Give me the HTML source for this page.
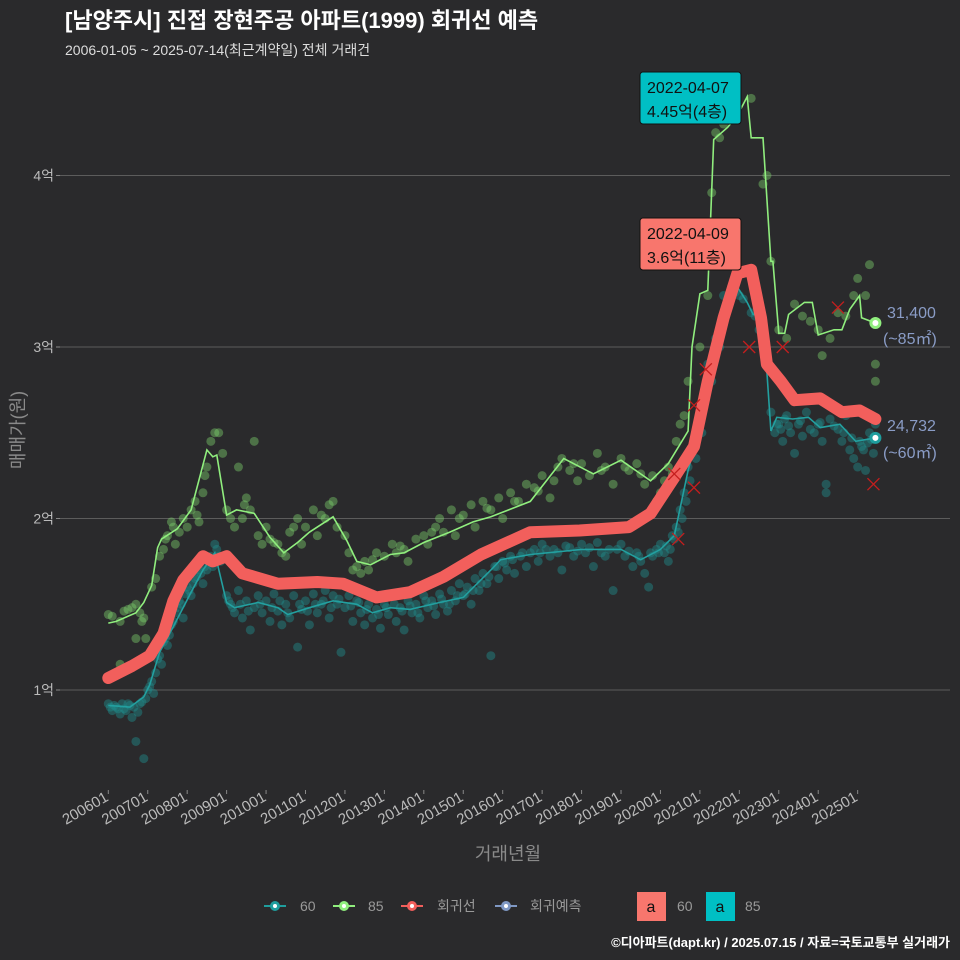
<!DOCTYPE html>
<html><head><meta charset="utf-8">
<style>
html,body{margin:0;padding:0;background:#2a2a2c;}
svg{display:block;font-family:"Liberation Sans","Noto Sans CJK KR",sans-serif;}
</style></head>
<body>
<svg id="chart" width="960" height="960" viewBox="0 0 960 960">
<rect width="960" height="960" fill="#2a2a2c"/>
<text x="65" y="28" fill="#ffffff" font-size="22" font-weight="bold">[남양주시] 진접 장현주공 아파트(1999) 회귀선 예측</text>
<text x="65" y="55" fill="#dddddd" font-size="14">2006-01-05 ~ 2025-07-14(최근계약일) 전체 거래건</text>
<g id="grid"></g>
<g id="yticks"></g>
<g id="xticks"></g>
<g id="scatter"></g>
<g id="lines"></g>
<g id="marks"></g>
<text x="24" y="430" fill="#8a8a8a" font-size="18" text-anchor="middle" transform="rotate(-90 24 430)">매매가(원)</text>
<text x="508" y="860" fill="#8a8a8a" font-size="18" text-anchor="middle">거래년월</text>

<g>
<rect x="640" y="72" width="101" height="52" rx="3" fill="#00bfc4" stroke="#111" stroke-width="1"/>
<text x="647" y="93" font-size="16" fill="#111">2022-04-07</text>
<text x="647" y="117" font-size="16" fill="#111">4.45억(4층)</text>
</g>
<g>
<rect x="640" y="218" width="101" height="52" rx="3" fill="#f8766d" stroke="#111" stroke-width="1"/>
<text x="647" y="239" font-size="16" fill="#111">2022-04-09</text>
<text x="647" y="263" font-size="16" fill="#111">3.6억(11층)</text>
</g>
<g fill="#8a9cc6" font-size="16">
<text x="887" y="318">31,400</text>
<text x="883" y="344">(~85㎡)</text>
<text x="887" y="431">24,732</text>
<text x="883" y="458">(~60㎡)</text>
</g>

<g font-size="14" fill="#9a9a9a">
<g>
<line x1="264" y1="906" x2="286" y2="906" stroke="#1f9e9e" stroke-width="2"/><circle cx="275" cy="906" r="5" fill="#1f9e9e"/><circle cx="275" cy="906" r="2" fill="#fff"/>
<text x="300" y="911">60</text></g>
<g>
<line x1="333" y1="906" x2="355" y2="906" stroke="#90ee7e" stroke-width="2"/><circle cx="344" cy="906" r="5" fill="#90ee7e"/><circle cx="344" cy="906" r="2" fill="#fff"/>
<text x="368" y="911">85</text></g>
<g>
<line x1="401" y1="906" x2="423" y2="906" stroke="#f25f5c" stroke-width="2"/><circle cx="412" cy="906" r="5" fill="#f25f5c"/><circle cx="412" cy="906" r="2" fill="#fff"/>
<text x="437" y="911">회귀선</text></g>
<g>
<line x1="495" y1="906" x2="517" y2="906" stroke="#7f98c4" stroke-width="2"/><circle cx="506" cy="906" r="5" fill="#7f98c4"/><circle cx="506" cy="906" r="2" fill="#fff"/>
<text x="530" y="911">회귀예측</text></g>
<g>
<rect x="637" y="892" width="29" height="29" fill="#f8766d"/><text x="651" y="912" fill="#111" font-size="16" text-anchor="middle">a</text>
<text x="677" y="911">60</text></g>
<g>
<rect x="706" y="892" width="29" height="29" fill="#00bfc4"/><text x="720" y="912" fill="#111" font-size="16" text-anchor="middle">a</text>
<text x="745" y="911">85</text></g>
</g>
<text x="950" y="947" fill="#ffffff" font-size="13" font-weight="bold" text-anchor="end">©디아파트(dapt.kr) / 2025.07.15 / 자료=국토교통부 실거래가</text>
</svg>
<script>
const yTicks=[1,2,3,4];
const yTickLabels=["1억","2억","3억","4억"];
const xTickYears=[2006,2007,2008,2009,2010,2011,2012,2013,2014,2015,2016,2017,2018,2019,2020,2021,2022,2023,2024,2025];
const xTickLabels=["200601","200701","200801","200901","201001","201101","201201","201301","201401","201501","201601","201701","201801","201901","202001","202101","202201","202301","202401","202501"];

const line85T=[2006.0,2006.2,2006.7,2006.9,2007.1,2007.25,2007.35,2007.75,2008.1,2008.5,2008.65,2008.75,2009.0,2009.25,2009.7,2010.1,2010.45,2010.8,2011.1,2011.7,2012.05,2012.3,2012.65,2013.15,2013.5,2014.0,2014.65,2015.25,2015.7,2016.7,2017.55,2018.3,2019.0,2019.75,2020.2,2020.7,2020.8,2021.0,2021.2,2021.35,2021.7,2021.95,2022.2,2022.3,2022.6,2022.8,2022.85,2023.0,2023.15,2023.25,2023.65,2023.85,2024.0,2024.4,2024.6,2024.8,2025.05,2025.1,2025.45];
const line85V=[1.39,1.40,1.45,1.51,1.61,1.83,1.88,1.94,2.05,2.40,2.36,2.37,2.02,2.05,2.03,1.89,1.80,1.86,1.92,2.01,1.87,1.75,1.73,1.79,1.80,1.86,1.92,1.98,2.01,2.10,2.35,2.26,2.34,2.22,2.32,2.51,3.0,3.31,3.33,4.21,4.28,4.35,4.46,4.22,4.22,3.50,3.50,3.08,3.08,3.19,3.26,3.26,3.07,3.10,3.10,3.22,3.30,3.17,3.14];

const line60T=[2006.0,2006.55,2006.9,2007.05,2007.3,2007.65,2008.1,2008.4,2008.7,2009.0,2009.2,2009.8,2010.3,2010.55,2011.1,2011.7,2012.3,2012.7,2013.15,2013.65,2014.4,2015.0,2015.7,2015.95,2016.7,2018.0,2019.0,2019.5,2020.0,2020.35,2020.7,2021.0,2021.35,2021.7,2021.95,2022.2,2022.35,2022.6,2022.8,2022.95,2023.35,2023.75,2024.05,2024.55,2024.95,2025.45];
const line60V=[0.91,0.90,0.96,1.03,1.22,1.37,1.57,1.70,1.80,1.51,1.48,1.51,1.48,1.44,1.48,1.52,1.50,1.45,1.48,1.47,1.51,1.54,1.70,1.76,1.79,1.82,1.82,1.76,1.82,1.90,2.28,2.53,2.86,3.32,3.35,3.26,3.19,3.19,2.51,2.59,2.58,2.59,2.53,2.55,2.45,2.47];

const regT=[2006.0,2006.6,2007.05,2007.4,2007.65,2007.9,2008.4,2008.65,2009.0,2009.4,2010.3,2011.3,2011.95,2012.8,2013.65,2014.5,2015.45,2016.7,2017.95,2019.2,2019.75,2020.35,2020.85,2021.2,2021.6,2021.95,2022.3,2022.55,2022.7,2023.05,2023.4,2024.05,2024.6,2025.05,2025.45];
const regV=[1.07,1.14,1.20,1.33,1.52,1.64,1.78,1.75,1.78,1.68,1.62,1.63,1.62,1.54,1.57,1.66,1.79,1.92,1.93,1.95,2.03,2.24,2.42,2.80,3.17,3.43,3.45,3.17,2.90,2.80,2.69,2.70,2.62,2.63,2.58];

const dots60T=[2006.0,2006.1,2006.2,2006.3,2006.4,2006.5,2006.6,2006.7,2006.75,2006.8,2006.9,2006.95,2007.0,2007.1,2007.15,2007.2,2007.3,2007.35,2007.45,2007.5,2007.6,2007.7,2007.8,2007.9,2008.0,2008.1,2008.2,2008.3,2008.4,2008.55,2008.65,2008.7,2008.8,2009.0,2009.1,2009.2,2009.3,2009.4,2009.5,2009.6,2009.7,2009.8,2009.9,2010.0,2010.1,2010.2,2010.3,2010.4,2010.5,2010.6,2010.7,2010.8,2010.9,2011.0,2011.1,2011.2,2011.3,2011.4,2011.5,2011.6,2011.7,2011.8,2011.9,2012.0,2012.1,2012.2,2012.3,2012.4,2012.5,2012.6,2012.7,2012.8,2012.9,2013.0,2013.1,2013.2,2013.3,2013.4,2013.5,2013.6,2013.7,2013.8,2013.9,2014.0,2014.1,2014.2,2014.3,2014.4,2014.5,2014.6,2014.7,2014.8,2014.9,2015.0,2015.1,2015.2,2015.3,2015.4,2015.5,2015.6,2015.7,2015.8,2015.9,2016.0,2016.1,2016.2,2016.3,2016.5,2016.6,2016.8,2016.9,2017.0,2017.2,2017.3,2017.5,2017.6,2017.8,2018.0,2018.1,2018.3,2018.4,2018.6,2018.7,2018.8,2019.0,2019.1,2019.3,2019.4,2019.5,2019.6,2019.7,2019.8,2019.9,2020.0,2020.1,2020.2,2020.3,2020.4,2020.5,2020.6,2020.7,2020.8,2021.0,2021.1,2021.2,2021.4,2021.6,2021.8,2022.0,2022.3,2022.5,2022.8,2022.9,2023.0,2023.1,2023.2,2023.3,2023.5,2023.6,2023.7,2023.9,2024.0,2024.1,2024.2,2024.3,2024.5,2024.6,2024.7,2024.8,2024.9,2025.0,2025.1,2025.2,2025.3,2025.4,2025.45,2024.2,2023.4,
2006.05,2006.15,2006.25,2006.35,2006.45,2006.55,2006.65,2006.85,2007.05,2007.25,2007.4,2007.55,2007.65,2007.75,2007.85,2007.95,2008.05,2008.15,2008.25,2008.35,2008.45,2008.5,2008.6,2008.75,2008.85,2009.05,2009.15,2009.35,2009.55,2009.85,2010.15,2010.35,2010.55,2010.85,2011.05,2011.25,2011.45,2011.65,2011.85,2012.15,2012.35,2012.55,2012.85,2013.05,2013.25,2013.45,2013.65,2013.85,2014.05,2014.25,2014.45,2014.65,2014.85,2015.05,2015.25,2015.45,2015.65,2015.85,2016.05,2016.25,2016.45,2016.7,2016.95,2017.1,2017.4,2017.7,2017.9,2018.2,2018.5,2018.9,2019.2,2019.45,2019.75,2019.95,2020.15,2020.25,2020.35,2020.45,2020.55,2020.65,2020.75,2020.9,2021.05,2021.3,2021.5,2021.7,2021.9,2022.1,2022.4,2022.6,2022.7,2022.95,2023.05,2023.15,2023.25,2023.55,2023.8,2024.05,2024.4,2024.65,2024.85,2025.05,2025.15,2025.25,2025.35];
const dots60V=[0.92,0.88,0.90,0.86,0.89,0.92,0.84,0.70,0.87,0.92,0.60,0.95,1.00,1.05,0.98,1.10,1.20,1.15,1.30,1.26,1.38,1.45,1.52,1.42,1.60,1.55,1.65,1.70,1.62,1.75,1.72,1.85,1.78,1.55,1.50,1.45,1.58,1.42,1.52,1.35,1.48,1.55,1.45,1.52,1.40,1.56,1.46,1.38,1.50,1.42,1.55,1.25,1.47,1.52,1.38,1.56,1.45,1.50,1.58,1.42,1.55,1.50,1.22,1.48,1.55,1.40,1.52,1.45,1.38,1.50,1.42,1.47,1.36,1.50,1.44,1.55,1.40,1.48,1.35,1.52,1.45,1.50,1.42,1.55,1.48,1.52,1.44,1.56,1.50,1.46,1.58,1.52,1.62,1.55,1.60,1.50,1.65,1.58,1.68,1.62,1.20,1.72,1.65,1.75,1.70,1.78,1.68,1.80,1.72,1.82,1.75,1.85,1.78,1.82,1.70,1.84,1.78,1.85,1.80,1.72,1.86,1.78,1.82,1.58,1.85,1.78,1.72,1.80,1.75,1.68,1.60,1.78,1.82,1.85,1.80,1.75,1.90,1.95,2.05,2.15,2.30,2.40,2.60,2.70,2.90,3.05,3.30,3.35,3.30,3.20,3.10,2.62,2.50,2.55,2.45,2.60,2.50,2.55,2.48,2.62,2.50,2.55,2.45,2.15,2.58,2.52,2.45,2.60,2.40,2.35,2.30,2.42,2.28,2.50,2.38,2.55,2.20,2.38,
0.90,0.91,0.89,0.92,0.88,0.91,0.90,0.93,1.02,1.18,1.28,1.32,1.40,1.48,1.50,1.56,1.58,1.62,1.66,1.68,1.72,1.70,1.78,1.82,1.75,1.52,1.48,1.50,1.46,1.50,1.48,1.52,1.45,1.50,1.46,1.50,1.52,1.48,1.53,1.49,1.51,1.47,1.44,1.48,1.50,1.46,1.49,1.45,1.52,1.49,1.53,1.50,1.55,1.56,1.58,1.62,1.66,1.72,1.74,1.76,1.78,1.80,1.80,1.82,1.80,1.83,1.81,1.83,1.80,1.82,1.81,1.78,1.80,1.80,1.84,1.82,1.88,1.92,2.00,2.10,2.22,2.35,2.50,2.80,3.00,3.25,3.32,3.28,3.18,3.15,2.95,2.55,2.52,2.58,2.54,2.57,2.52,2.56,2.54,2.50,2.47,2.45,2.40,2.44,2.46];

const dots85T=[2006.0,2006.1,2006.3,2006.4,2006.6,2006.7,2006.8,2006.9,2006.95,2006.7,2006.3,2007.1,2007.2,2007.3,2007.4,2007.5,2007.6,2007.7,2007.8,2007.9,2008.0,2008.1,2008.2,2008.3,2008.4,2008.5,2008.6,2008.7,2008.8,2008.9,2009.0,2009.1,2009.2,2009.3,2009.4,2009.5,2009.6,2009.7,2009.8,2009.9,2010.0,2010.1,2010.3,2010.4,2010.5,2010.6,2010.8,2010.9,2011.0,2011.2,2011.3,2011.5,2011.6,2011.7,2011.8,2012.0,2012.1,2012.2,2012.3,2012.4,2012.5,2012.6,2012.8,2013.0,2013.2,2013.3,2013.5,2013.6,2013.8,2014.0,2014.1,2014.3,2014.4,2014.5,2014.7,2014.8,2015.0,2015.2,2015.3,2015.5,2015.7,2015.9,2016.0,2016.2,2016.4,2016.6,2016.8,2017.0,2017.2,2017.4,2017.5,2017.7,2017.9,2018.0,2018.2,2018.4,2018.6,2018.8,2019.0,2019.2,2019.4,2019.6,2019.8,2019.9,2020.0,2020.2,2020.4,2020.5,2020.6,2020.7,2021.0,2021.2,2021.3,2021.4,2021.5,2021.6,2021.7,2022.3,2022.6,2022.7,2022.8,2023.0,2023.2,2023.4,2023.6,2023.8,2024.0,2024.1,2024.3,2024.5,2024.7,2024.9,2025.0,2025.2,2025.3,2025.45,2025.45,2021.1,
2006.5,2006.85,2007.45,2007.65,2008.25,2008.45,2009.45,2010.2,2010.7,2011.4,2012.7,2013.4,2014.2,2014.9,2015.6,2016.3,2016.9,2017.3,2017.8,2018.5,2019.1,2019.5,2020.1,2020.3];
const dots85V=[1.44,1.43,1.40,1.46,1.48,1.50,1.45,1.42,1.30,1.30,1.15,1.60,1.65,1.78,1.82,1.90,1.98,1.85,1.92,2.00,1.95,2.05,2.10,1.98,2.15,2.30,2.45,2.50,2.50,2.38,2.05,2.00,1.95,2.30,2.00,2.12,2.05,2.45,1.90,1.85,1.95,1.88,1.85,1.80,1.78,1.92,2.00,1.85,1.95,2.05,1.90,2.00,2.08,2.10,1.95,1.90,1.80,1.70,1.72,1.68,1.75,1.70,1.80,1.78,1.85,1.80,1.82,1.75,1.88,1.90,1.85,1.95,2.00,1.92,2.05,1.90,2.02,2.08,1.95,2.10,2.05,2.12,2.00,2.15,2.10,2.20,2.18,2.25,2.12,2.30,2.35,2.28,2.22,2.32,2.25,2.38,2.30,2.20,2.35,2.28,2.32,2.20,2.25,2.10,2.15,2.30,2.45,2.55,2.60,2.80,3.00,3.30,3.90,4.25,4.22,4.30,4.35,4.45,3.95,4.00,3.50,3.10,3.05,3.25,3.18,3.15,3.10,2.95,3.05,3.20,3.18,3.30,3.40,3.30,3.48,2.80,2.90,4.40,
1.47,1.40,1.88,1.95,2.02,2.25,2.08,1.86,1.95,2.02,1.76,1.84,1.92,2.00,2.06,2.10,2.16,2.22,2.32,2.28,2.30,2.26,2.22,2.26];

const crossT=[2021.15,2020.85,2020.35,2020.85,2020.45,2022.25,2023.1,2024.5,2025.4];
const crossV=[2.87,2.66,2.26,2.18,1.88,3.00,3.00,3.23,2.20];

const NS="http://www.w3.org/2000/svg";
const X0=60,X1=950;
function xs(t){return 108.3+(t-2006)*39.44;}
function ys(v){return 690-(v-1)*171.5;}
function mk(tag,attrs,parent){const e=document.createElementNS(NS,tag);for(const k in attrs)e.setAttribute(k,attrs[k]);parent.appendChild(e);return e;}

const grid=document.getElementById('grid'),yt=document.getElementById('yticks'),xt=document.getElementById('xticks');
yTicks.forEach((v,i)=>{
  const g=mk('line',{x1:X0,x2:X1,y1:ys(v),y2:ys(v),stroke:'#5c5c5c','stroke-width':1},grid);
  
  
  const tk=mk('line',{x1:56,x2:60,y1:ys(v),y2:ys(v),stroke:'#888'},yt);
  
  
  const t=mk('text',{x:54,y:ys(v)+5,fill:'#bbbbbb','font-size':14,'text-anchor':'end'},yt);
  t.textContent=yTickLabels[i];
  
  
});
xTickYears.forEach((yr,i)=>{
  const x=xs(yr);
  const tk=mk('line',{x1:x,x2:x,y1:790,y2:794,stroke:'#888'},xt);
  
  
  const t=mk('text',{x:x+1,y:800,fill:'#bbbbbb','font-size':15,'text-anchor':'end',transform:`rotate(-30 ${x+1} 800)`},xt);
  t.textContent=xTickLabels[i];
  
  
});

const sc=document.getElementById('scatter');
dots60T.forEach((t,i)=>{
  const c=mk('circle',{cx:xs(t),cy:ys(dots60V[i]),r:4.5,fill:'#1e8c8c','fill-opacity':0.45},sc);
  
  
});
dots85T.forEach((t,i)=>{
  const c=mk('circle',{cx:xs(t),cy:ys(dots85V[i]),r:4.5,fill:'#7fd46e','fill-opacity':0.42},sc);
  
  
});

const ln=document.getElementById('lines');
function pathOf(T,V){return T.map((t,i)=>(i?'L':'M')+xs(t).toFixed(1)+','+ys(V[i]).toFixed(1)).join(' ');}
const p60=mk('path',{d:pathOf(line60T,line60V),fill:'none',stroke:'#23a0a0','stroke-width':1.6},ln);


const p85=mk('path',{d:pathOf(line85T,line85V),fill:'none',stroke:'#90ee7e','stroke-width':1.6},ln);


const pr=mk('path',{d:pathOf(regT,regV),fill:'none',stroke:'#f25f5c','stroke-width':12,'stroke-linejoin':'round','stroke-linecap':'round'},ln);



const mg=document.getElementById('marks');
crossT.forEach((t,i)=>{
  const x=xs(t),y=ys(crossV[i]);
  const c=mk('path',{d:`M${x-6},${y-6}L${x+6},${y+6}M${x-6},${y+6}L${x+6},${y-6}`,stroke:'#c41e1e','stroke-width':1.3},mg);
  
  
});
const e85=mk('circle',{cx:xs(line85T[line85T.length-1]),cy:ys(line85V[line85V.length-1]),r:6,fill:'#90ee7e'},mg);


mk('circle',{cx:xs(line85T[line85T.length-1]),cy:ys(line85V[line85V.length-1]),r:3,fill:'#fff'},mg);
const e60=mk('circle',{cx:xs(line60T[line60T.length-1]),cy:ys(line60V[line60V.length-1]),r:6,fill:'#1e9e9e'},mg);


mk('circle',{cx:xs(line60T[line60T.length-1]),cy:ys(line60V[line60V.length-1]),r:3,fill:'#fff'},mg);
</script>
</body></html>
